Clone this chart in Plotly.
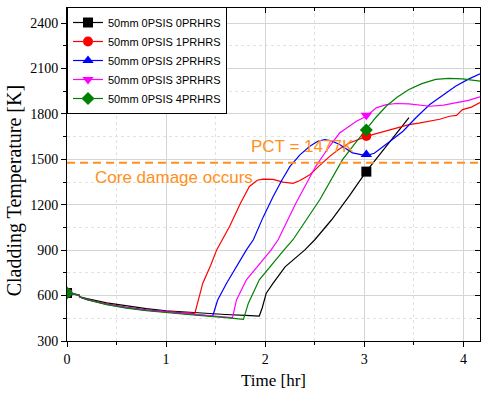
import plotly.graph_objects as go

# ---- data (time in hr, cladding temperature in K) ----
names = ["50mm 0PSIS 0PRHRS", "50mm 0PSIS 1PRHRS", "50mm 0PSIS 2PRHRS",
         "50mm 0PSIS 3PRHRS", "50mm 0PSIS 4PRHRS"]
colors = ["#000000", "#FF0000", "#0000FF", "#FF00FF", "#008000"]
symbols = ["square", "circle", "triangle-up", "triangle-down", "diamond"]

t0 = [0, 0.12, 0.13, 0.2, 0.4, 0.6, 0.8, 1.0, 1.2, 1.4, 1.6, 1.8, 1.94, 1.97, 2.01, 2.08, 2.2,
      2.4, 2.5, 2.67, 2.85, 3.02, 3.2, 3.45]
k0 = [618, 605, 592, 580, 552, 532, 514, 500, 490, 482, 475, 469, 465, 520, 616, 682, 790,
      902, 969, 1101, 1260, 1420, 1570, 1776]

t1 = [0, 0.12, 0.13, 0.2, 0.4, 0.6, 0.8, 1.0, 1.15, 1.29, 1.37, 1.45, 1.51, 1.64, 1.75, 1.84,
      1.92, 1.98, 2.08, 2.18, 2.28, 2.35, 2.45, 2.55, 2.65, 2.75, 2.85, 3.02, 3.15, 3.25, 3.35,
      3.45, 3.55, 3.66, 3.76, 3.86, 3.93, 3.99, 4.08, 4.167]
k1 = [618, 603, 590, 575, 545, 523, 506, 494, 488, 483, 682, 800, 902, 1057, 1210, 1321,
      1362, 1370, 1368, 1350, 1342, 1360, 1399, 1460, 1520, 1570, 1608, 1652, 1675, 1697, 1710,
      1730, 1740, 1752, 1765, 1785, 1790, 1829, 1845, 1875]

t2 = [0, 0.12, 0.13, 0.2, 0.4, 0.6, 0.8, 1.0, 1.2, 1.47, 1.52, 1.61, 1.81, 1.88, 1.98, 2.08,
      2.17, 2.25, 2.35, 2.45, 2.53, 2.60, 2.67, 2.75, 2.88, 3.02, 3.1, 3.15, 3.25, 3.39, 3.52,
      3.66, 3.8, 3.92, 4.05, 4.167]
k2 = [618, 603, 590, 574, 543, 521, 504, 492, 482, 465, 571, 682, 902, 969, 1120, 1255,
      1365, 1454, 1530, 1586, 1620, 1631, 1622, 1598, 1543, 1525, 1540, 1564, 1615, 1686, 1775,
      1862, 1930, 1983, 2030, 2065]

t3 = [0, 0.12, 0.13, 0.2, 0.4, 0.6, 0.8, 1.0, 1.3, 1.67, 1.71, 1.81, 2.06, 2.13, 2.31, 2.51,
      2.63, 2.75, 2.92, 3.02, 3.12, 3.22, 3.32, 3.45, 3.55, 3.66, 3.8, 3.92, 4.05, 4.167]
k3 = [618, 603, 590, 574, 542, 520, 503, 490, 474, 454, 571, 704, 902, 969, 1212, 1454,
      1570, 1674, 1752, 1785, 1840, 1862, 1869, 1866, 1858, 1851, 1858, 1873, 1890, 1913]

t4 = [0, 0.12, 0.13, 0.2, 0.4, 0.6, 0.8, 1.0, 1.3, 1.6, 1.78, 1.83, 1.94, 2.19, 2.28, 2.55,
      2.78, 2.9, 3.02, 3.12, 3.22, 3.33, 3.45, 3.58, 3.72, 3.85, 3.99, 4.08, 4.167]
k4 = [618, 603, 590, 573, 540, 517, 500, 487, 470, 455, 443, 550, 704, 902, 969, 1233,
      1498, 1600, 1697, 1780, 1851, 1910, 1962, 2000, 2028, 2035, 2032, 2026, 2017]

marker_t = [0, 3.02]
marker_k = [[617, 1419], [617, 1654], [617, 1532], [617, 1791], [617, 1694]]

PCT = 1477
x_ticks = [0, 1, 2, 3, 4]
y_ticks = [300, 600, 900, 1200, 1500, 1800, 2100, 2400]

series_t = [t0, t1, t2, t3, t4]
series_k = [k0, k1, k2, k3, k4]

ORANGE = "#FF9020"
SERIF = "Liberation Serif"
SANS = "Liberation Sans"

fig = go.Figure()

for i in range(5):
    fig.add_trace(go.Scatter(x=series_t[i], y=series_k[i], mode="lines",
                             line=dict(color=colors[i], width=1.2),
                             showlegend=False, legendgroup=str(i), hoverinfo="skip"))
for i in range(5):
    fig.add_trace(go.Scatter(x=marker_t, y=marker_k[i], mode="markers",
                             marker=dict(symbol=symbols[i], color=colors[i], size=10,
                                         line=dict(width=0)),
                             showlegend=False, legendgroup=str(i), hoverinfo="skip"))
for i in range(5):
    fig.add_trace(go.Scatter(x=[None], y=[None], mode="lines+markers", name=names[i],
                             line=dict(color=colors[i], width=1.2),
                             marker=dict(symbol=symbols[i], color=colors[i], size=10),
                             legendgroup=str(i)))

# invisible trace for the mirrored (inside-tick) top/right axes
fig.add_trace(go.Scatter(x=[None], y=[None], xaxis="x2", yaxis="y2",
                         showlegend=False, hoverinfo="skip"))

XR = [0, 4.1667]
YR = [300, 2500]

fig.add_shape(type="line", xref="paper", x0=0, x1=1, yref="y", y0=PCT, y1=PCT,
              line=dict(color=ORANGE, width=2, dash="8px,5px"))

fig.add_annotation(x=2.38, y=1588, text="PCT = %dK" % PCT, showarrow=False,
                   font=dict(family=SANS, size=17, color=ORANGE), xanchor="center")
fig.add_annotation(x=1.08, y=1378, text="Core damage occurs", showarrow=False,
                   font=dict(family=SANS, size=17, color=ORANGE), xanchor="center")
fig.add_annotation(xref="paper", yref="paper", x=-0.127, y=0.451, textangle=-90,
                   text="Cladding Temperature [K]", showarrow=False,
                   xanchor="center", yanchor="middle",
                   font=dict(family=SERIF, size=20, color="black"))

fig.update_layout(
    width=481, height=398,
    margin=dict(l=67, r=1, t=8, b=57),
    paper_bgcolor="white", plot_bgcolor="white",
    showlegend=True,
    legend=dict(x=0, y=1.003, xanchor="left", yanchor="top", bgcolor="white",
                bordercolor="black", borderwidth=1,
                font=dict(family=SANS, size=11, color="black"), tracegroupgap=0),
    xaxis=dict(range=XR, tickvals=x_ticks, ticks="outside", ticklen=5, tickwidth=1,
               automargin=False,
               tickcolor="black", showline=True, linecolor="black", linewidth=1, mirror=True,
               showgrid=True, gridcolor="#d4d4d4", gridwidth=1, zeroline=False,
               minor=dict(dtick=0.5, tick0=0, ticks="outside", ticklen=3, tickcolor="black",
                          showgrid=True, gridcolor="#e2e2e2", griddash="dot"),
               tickfont=dict(family=SERIF, size=14, color="black"),
               title=dict(text="Time [hr]", font=dict(family=SERIF, size=17, color="black"),
                          standoff=8)),
    yaxis=dict(range=YR, tickvals=y_ticks, ticks="outside", ticklen=5, tickwidth=1,
               automargin=False,
               tickcolor="black", showline=True, linecolor="black", linewidth=1, mirror=True,
               showgrid=True, gridcolor="#d4d4d4", gridwidth=1, zeroline=False,
               minor=dict(dtick=150, tick0=300, ticks="outside", ticklen=3, tickcolor="black",
                          showgrid=True, gridcolor="#e2e2e2", griddash="dot"),
               tickfont=dict(family=SERIF, size=14, color="black")),
    xaxis2=dict(range=XR, overlaying="x", side="top", anchor="y", tickvals=x_ticks,
                automargin=False,
                ticks="inside", ticklen=5, tickcolor="black", showticklabels=False,
                showgrid=False, zeroline=False, showline=False,
                minor=dict(dtick=0.5, tick0=0, ticks="inside", ticklen=3, tickcolor="black",
                           showgrid=False)),
    yaxis2=dict(range=YR, overlaying="y", side="right", anchor="x", tickvals=y_ticks,
                automargin=False,
                ticks="inside", ticklen=5, tickcolor="black", showticklabels=False,
                showgrid=False, zeroline=False, showline=False,
                minor=dict(dtick=150, tick0=300, ticks="inside", ticklen=3, tickcolor="black",
                           showgrid=False)),
)

fig.write_html("out.html", config={"displayModeBar": False},
               post_script="document.body.style.margin='0';")
